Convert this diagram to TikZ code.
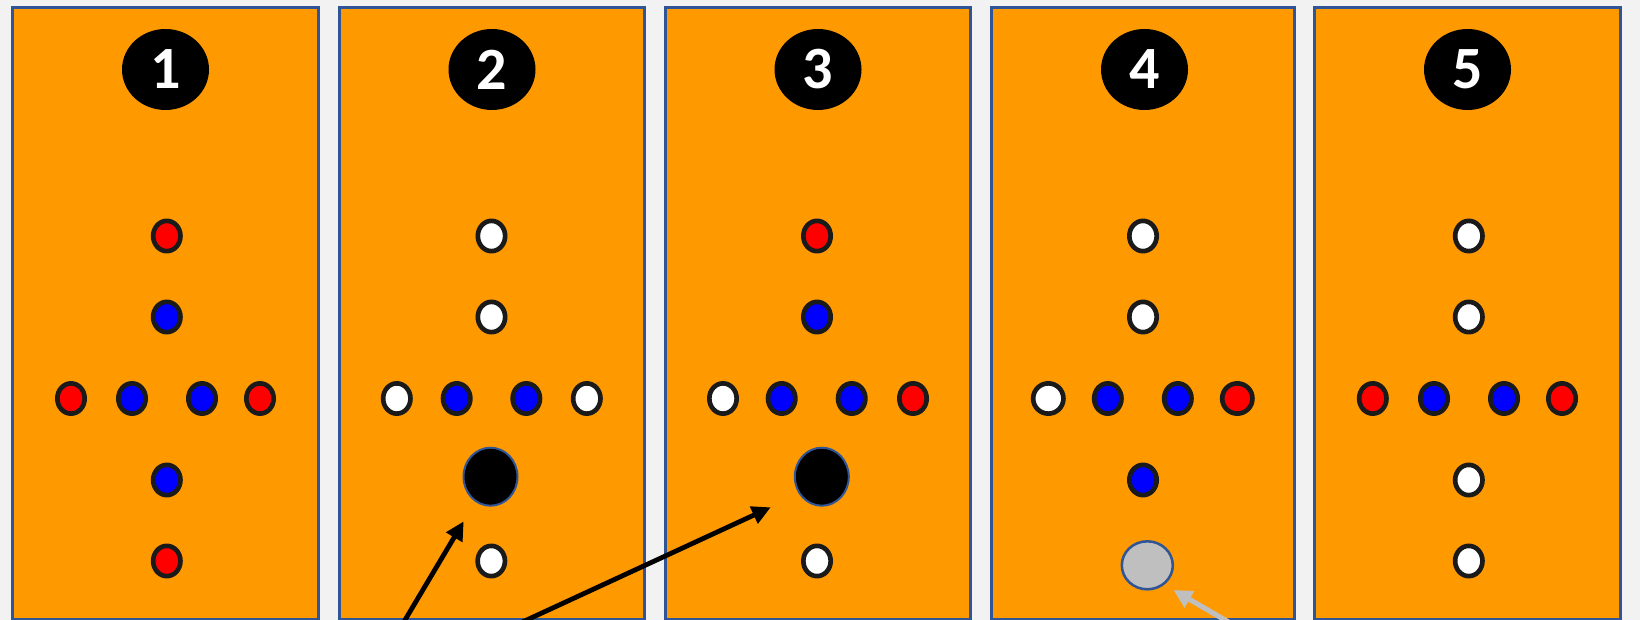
\documentclass[tikz,border=0pt]{standalone}
\usepackage{fontspec}
\newfontfamily\badgefont{Carlito}
\usetikzlibrary{shapes.geometric, arrows.meta}
\definecolor{bg}{HTML}{F2F2F2}
\definecolor{org}{HTML}{FF9900}
\definecolor{pborder}{HTML}{2F5597}
\definecolor{dotring}{HTML}{1A1A1A}
\definecolor{lgray}{HTML}{BFBFBF}
\begin{document}
\begin{tikzpicture}[x=0.75pt,y=-0.75pt,
 panel/.style={draw=pborder, fill=org, line width=2.25pt},
 badge/.style={ellipse, fill=black, minimum width=65.25pt, minimum height=60.75pt, inner sep=0pt,
   text=white, font=\badgefont\bfseries\fontsize{45}{45}\selectfont},
 pdot/.style={ellipse, draw=dotring, line width=3.5pt, minimum width=20.5pt, minimum height=22.7pt, inner sep=0pt},
 pr/.style={pdot, fill=red},
 pb/.style={pdot, fill=blue},
 pw/.style={pdot, fill=white},
 bigb/.style={ellipse, fill=black, draw=pborder, line width=1.5pt, minimum width=40.5pt, minimum height=43.5pt, inner sep=0pt},
 grayb/.style={ellipse, fill=lgray, draw=pborder, line width=1.9pt, minimum width=38.25pt, minimum height=36pt, inner sep=0pt},
 arr/.style={line width=3.6pt, -{Triangle[length=14pt,width=13.5pt]}},
 garr/.style={draw=lgray, line width=3.8pt, -{Triangle[length=14pt,width=13.5pt]}}
]
\useasboundingbox (0,0) rectangle (1640,620);
\clip (0,0) rectangle (1640,620);
\fill[bg] (0,0) rectangle (1640,620);

% panels
\draw[panel] (12.5,7.5) rectangle (318.5,619);
\draw[panel] (339,7.5) rectangle (644.3,619);
\draw[panel] (665.3,7.5) rectangle (970.5,619);
\draw[panel] (991.5,7.5) rectangle (1294,619);
\draw[panel] (1314.5,7.5) rectangle (1620.5,619);

% badges
\node[badge] (b1) at (165.5,69.5) {1};
\node[badge] (b2) at (492,69.5) {2};
\node[badge] (b3) at (818,69.5) {3};
\node[badge] (b4) at (1144.5,69.5) {4};
\node[badge] (b5) at (1467.5,69.5) {5};

% panel 1
\node[pr] (p1a) at (166.8,236) {};
\node[pb] (p1b) at (166.8,317) {};
\node[pr] (p1c) at (71,398.5) {};
\node[pb] (p1d) at (132,398.5) {};
\node[pb] (p1e) at (202,398.5) {};
\node[pr] (p1f) at (260,398.5) {};
\node[pb] (p1g) at (166.8,480) {};
\node[pr] (p1h) at (166.8,561) {};

% panel 2
\node[pw] (p2a) at (491.5,236) {};
\node[pw] (p2b) at (491.5,317) {};
\node[pw] (p2c) at (396.8,398.5) {};
\node[pb] (p2d) at (456.7,398.5) {};
\node[pb] (p2e) at (526.3,398.5) {};
\node[pw] (p2f) at (586.8,398.5) {};
\node[bigb] (k2) at (490.5,476.7) {};
\node[pw] (p2h) at (491.3,561) {};

% panel 3
\node[pr] (p3a) at (817,236) {};
\node[pb] (p3b) at (817,317) {};
\node[pw] (p3c) at (723,398.5) {};
\node[pb] (p3d) at (781.7,398.5) {};
\node[pb] (p3e) at (851.7,398.5) {};
\node[pr] (p3f) at (913,398.5) {};
\node[bigb] (k3) at (821.8,476.7) {};
\node[pw] (p3h) at (817,561) {};

% panel 4
\node[pw] (p4a) at (1143,236) {};
\node[pw] (p4b) at (1143,317) {};
\node[pw, minimum width=22.7pt] (p4c) at (1048.3,398.5) {};
\node[pb] (p4d) at (1107.8,398.5) {};
\node[pb] (p4e) at (1177.8,398.5) {};
\node[pr, minimum width=22.7pt] (p4f) at (1237.3,398.5) {};
\node[pb] (p4g) at (1143,480) {};
\node[grayb] (g4) at (1147.3,565.3) {};

% panel 5
\node[pw] (p5a) at (1468.8,236) {};
\node[pw] (p5b) at (1468.8,317) {};
\node[pr] (p5c) at (1372.8,398.5) {};
\node[pb] (p5d) at (1434,398.5) {};
\node[pb] (p5e) at (1504,398.5) {};
\node[pr] (p5f) at (1562,398.5) {};
\node[pw] (p5g) at (1468.8,480) {};
\node[pw] (p5h) at (1468.8,561) {};

% arrows
\coordinate (tA) at (393.1,640);
\coordinate (hA) at (463.7,521.3);
\coordinate (tB) at (483.4,640);
\coordinate (hB) at (770.7,507.3);
\coordinate (tC) at (1259.5,640);
\coordinate (hC) at (1173.3,590);
\draw[arr] (tA) -- (hA);
\draw[arr] (tB) -- (hB);
\draw[garr] (tC) -- (hC);
\end{tikzpicture}
\end{document}
